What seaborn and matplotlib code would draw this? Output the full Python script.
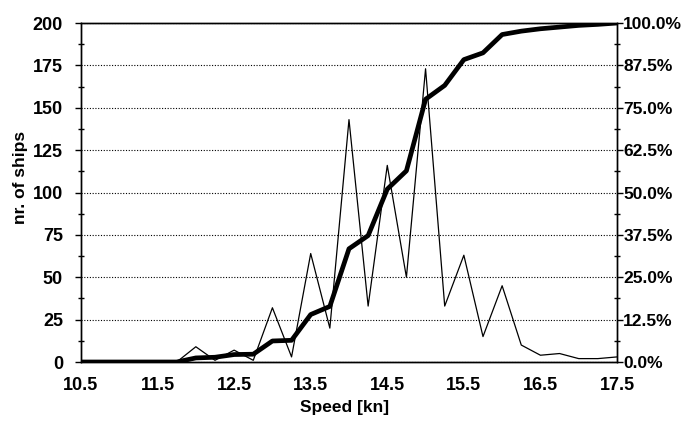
import matplotlib
matplotlib.use("Agg")
import matplotlib.pyplot as plt
from matplotlib.ticker import MultipleLocator, FuncFormatter
import seaborn as sns
import pandas as pd

# Speed classes (kn) and number of ships per class
speed = [10.5, 10.75, 11.0, 11.25, 11.5, 11.75, 12.0, 12.25, 12.5, 12.75,
         13.0, 13.25, 13.5, 13.75, 14.0, 14.25, 14.5, 14.75, 15.0, 15.25,
         15.5, 15.75, 16.0, 16.25, 16.5, 16.75, 17.0, 17.25, 17.5]
ships = [0, 0, 0, 0, 0, 0, 9, 1, 7, 1,
         32, 3, 64, 20, 143, 33, 116, 50, 173, 33,
         63, 15, 45, 10, 4, 5, 2, 2, 3]
# Cumulative share of the fleet (%)
cum_pct = [0, 0, 0, 0, 0, 0, 1.2, 1.4, 2.2, 2.3,
           6.2, 6.4, 14.0, 16.4, 33.4, 37.3, 51.0, 56.4, 77.5, 81.6,
           89.2, 91.2, 96.6, 97.6, 98.3, 98.8, 99.3, 99.6, 100.0]

x_labels = ["10.5", "11.5", "12.5", "13.5", "14.5", "15.5", "16.5", "17.5"]

df = pd.DataFrame({"speed": speed, "ships": ships, "cum": cum_pct})

sns.set_theme(style="white")
plt.rcParams["font.family"] = ["Liberation Sans", "DejaVu Sans"]
plt.rcParams["font.weight"] = "bold"

FS = 12.5
TFS = 13

fig = plt.figure(figsize=(6.88, 4.23), dpi=100)
ax = fig.add_axes([0.1177, 0.1442, 0.7791, 0.8014])

sns.lineplot(data=df, x="speed", y="ships", ax=ax, color="black", linewidth=0.9)
ax2 = ax.twinx()
sns.lineplot(data=df, x="speed", y="cum", ax=ax2, color="black", linewidth=3.4)

ax.set_xlim(10.5, 17.5)
ax.set_ylim(0, 200)
ax2.set_ylim(0, 100)

# x ticks every 0.5 kn, labelled every 1 kn
ax.xaxis.set_major_locator(MultipleLocator(0.5))
ax.xaxis.set_major_formatter(FuncFormatter(
    lambda v, p: f"{v:.1f}" if f"{v:.1f}" in x_labels else ""))

ax.yaxis.set_major_locator(MultipleLocator(25))
ax.yaxis.set_minor_locator(MultipleLocator(12.5))
ax.yaxis.set_major_formatter(FuncFormatter(lambda v, p: f"{v:.0f}"))

ax2.yaxis.set_major_locator(MultipleLocator(12.5))
ax2.yaxis.set_minor_locator(MultipleLocator(6.25))
ax2.yaxis.set_major_formatter(FuncFormatter(lambda v, p: f"{v:.1f}%"))

ax.yaxis.grid(True, which="major", linestyle=(0, (1, 1.5)), color="black", linewidth=0.8)
ax.xaxis.grid(False)
ax2.grid(False)

for a in (ax, ax2):
    for s in a.spines.values():
        s.set_visible(True)
        s.set_color("black")
        s.set_linewidth(1.0)

ax.tick_params(axis="x", which="major", direction="inout", length=7, width=1,
               color="black", labelsize=TFS, pad=7, labelcolor="black")
ax.tick_params(axis="y", which="major", direction="out", length=4, width=1,
               color="black", labelsize=TFS, pad=9, left=True, labelcolor="black")
ax.tick_params(axis="y", which="minor", direction="inout", length=5, width=1,
               color="black", left=True)
ax2.tick_params(axis="y", which="major", direction="out", length=4, width=1,
                color="black", labelsize=12.5, pad=0.5, right=True, labelcolor="black")
ax2.tick_params(axis="y", which="minor", direction="inout", length=5, width=1,
                color="black", right=True)

for lbl in ax.get_xticklabels() + ax.get_yticklabels() + ax2.get_yticklabels():
    lbl.set_fontweight("bold")

ax.set_xlabel("Speed [kn]", fontsize=FS, fontweight="bold", color="black")
ax.set_ylabel("nr. of ships", fontsize=FS, fontweight="bold", color="black")
ax2.set_ylabel("")
ax.xaxis.set_label_coords(0.4925, -0.112)
ax.yaxis.set_label_coords(-0.099, 0.544)

fig.savefig("out.png", dpi=100, facecolor="white")
